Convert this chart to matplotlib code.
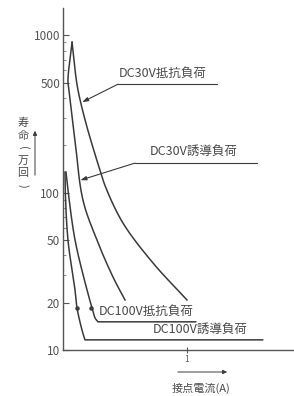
import matplotlib
matplotlib.use("Agg")
import numpy as np
import matplotlib.pyplot as plt
from matplotlib.patches import FancyArrowPatch
from matplotlib.ticker import FixedLocator, NullFormatter

plt.rcParams['font.family'] = ['Noto Sans CJK JP', 'DejaVu Sans']

# life (x10^4 operations) vs contact current (A)
dc30_res_x = [0.073, 0.097, 0.121, 0.185, 0.298, 0.347, 0.484, 0.726, 1.0]
dc30_res_y = [903, 600, 448, 276, 139, 106.8, 64, 35.7, 20.8]

dc30_ind_x = [0.073, 0.040, 0.048, 0.097, 0.161, 0.274, 0.403, 0.5]
dc30_ind_y = [903, 518, 448, 215, 89.6, 49.9, 29.1, 20.8]

dc100_res_x = [0.024, 0.040, 0.097, 0.194, 0.234, 0.258, 0.282, 1.07]
dc100_res_y = [135, 104, 50, 24, 18.5, 16.0, 15.1, 15.1]

dc100_ind_x = [0.016, 0.018, 0.040, 0.097, 0.113, 0.153, 0.177, 1.61]
dc100_ind_y = [135, 104, 50, 24, 18.5, 13.4, 11.6, 11.6]

ytick_vals = [10, 20, 50, 100, 500, 1000]
ytick_labels = ["10", "20", "50", "100", "500", "1000"]
yminor_vals = [30, 40, 60, 70, 80, 90, 200, 300, 400, 600, 700, 800, 900]

labels = ["DC30V抵抗負荷", "DC30V誘導負荷", "DC100V抵抗負荷", "DC100V誘導負荷"]
ylabel_chars = ["寿", "命", "(", "万", "回", ")"]
xlabel = "接点電流(A)"


def smooth_line(ax, xs, ys, n=24, alpha=0.5, straight_tail=False):
    """Centripetal Catmull-Rom through the read points, done in screen
    space so the curve looks smooth on the log axis."""
    P = ax.transData.transform(np.column_stack([xs, ys]))
    tail = None
    if straight_tail:
        tail = P[-1]
        P = P[:-1]
    P = np.vstack([2 * P[0] - P[1], P, 2 * P[-1] - P[-2]])
    out = [P[1]]
    for i in range(1, len(P) - 2):
        p0, p1, p2, p3 = P[i - 1], P[i], P[i + 1], P[i + 2]
        t0 = 0.0
        t1 = t0 + max(np.linalg.norm(p1 - p0), 1e-6) ** alpha
        t2 = t1 + max(np.linalg.norm(p2 - p1), 1e-6) ** alpha
        t3 = t2 + max(np.linalg.norm(p3 - p2), 1e-6) ** alpha
        for t in np.linspace(t1, t2, n)[1:]:
            a1 = (t1 - t) / (t1 - t0) * p0 + (t - t0) / (t1 - t0) * p1
            a2 = (t2 - t) / (t2 - t1) * p1 + (t - t1) / (t2 - t1) * p2
            a3 = (t3 - t) / (t3 - t2) * p2 + (t - t2) / (t3 - t2) * p3
            b1 = (t2 - t) / (t2 - t0) * a1 + (t - t0) / (t2 - t0) * a2
            b2 = (t3 - t) / (t3 - t1) * a2 + (t - t1) / (t3 - t1) * a3
            out.append((t2 - t) / (t2 - t1) * b1 + (t - t1) / (t2 - t1) * b2)
    if tail is not None:
        out.append(tail)
    d = ax.transData.inverted().transform(np.array(out))
    return d[:, 0], d[:, 1]


W, H = 294, 396
fig = plt.figure(figsize=(W / 100, H / 100), dpi=100)
ax = fig.add_axes([63 / W, (H - 350) / H, 230 / W, 342 / H])

lc = "#3a3a3a"
tc = "#4a4a4a"
ax.set_yscale("log")
ax.set_xlim(0, 1.855)
ax.set_ylim(10, 1490)

for xs, ys, flat in [(dc30_res_x, dc30_res_y, False),
                     (dc30_ind_x, dc30_ind_y, False),
                     (dc100_res_x, dc100_res_y, True),
                     (dc100_ind_x, dc100_ind_y, True)]:
    sx, sy = smooth_line(ax, xs, ys, straight_tail=flat)
    ax.plot(sx, sy, color=lc, lw=1.1, solid_joinstyle="round")

for s in ["top", "right"]:
    ax.spines[s].set_visible(False)
for s in ["left", "bottom"]:
    ax.spines[s].set_color("#555555")
    ax.spines[s].set_linewidth(1.0)

ax.yaxis.set_major_locator(FixedLocator(ytick_vals))
ax.set_yticklabels(ytick_labels)
ax.yaxis.set_minor_locator(FixedLocator(yminor_vals))
ax.yaxis.set_minor_formatter(NullFormatter())
ax.tick_params(axis="y", which="major", direction="in", length=4, width=0.8,
               colors="#555555", labelsize=8.5, pad=2)
ax.tick_params(axis="y", which="minor", direction="in", length=2, width=0.6,
               colors="#777777")
ax.set_xticks([1])
ax.set_xticklabels(["1"])
ax.tick_params(axis="x", direction="inout", length=5, width=0.8,
               colors="#555555", labelsize=6, pad=1)

arrow = dict(arrowstyle="-|>,head_length=0.35,head_width=0.12",
             color=lc, lw=0.8, shrinkA=0, shrinkB=0)

# label for DC30V resistive
ax.annotate("", xy=(0.155, 376), xytext=(0.444, 489), arrowprops=arrow)
ax.plot([0.444, 1.24], [489, 489], color=lc, lw=0.8)
ax.text(0.45, 520, labels[0], fontsize=9, color=tc, ha="left", va="bottom")

# label for DC30V inductive
ax.annotate("", xy=(0.14, 120), xytext=(0.58, 154), arrowprops=arrow)
ax.plot([0.58, 1.565], [154, 154], color=lc, lw=0.8)
ax.text(0.70, 165, labels[1], fontsize=9, color=tc, ha="left", va="bottom")

# labels for DC100V curves
ax.plot([0.113, 0.226], [18.5, 18.5], ls="none", marker="o", ms=2.2, color=lc)
ax.text(0.29, 16.0, labels[2], fontsize=9, color=tc, ha="left", va="bottom")
ax.text(0.72, 12.3, labels[3], fontsize=9, color=tc, ha="left", va="bottom")

# y axis title, stacked vertically, with arrow
for i, ch in enumerate(ylabel_chars):
    rot = -90 if ch in "()" else 0
    fig.text(23 / W, 1 - (123 + 12.5 * i) / H, ch, fontsize=8, color=tc,
             ha="center", va="center", rotation=rot)
fig.patches.append(FancyArrowPatch(
    (35 / W, 1 - 178 / H), (35 / W, 1 - 128 / H), transform=fig.transFigure,
    arrowstyle="-|>,head_length=2.5,head_width=1.2", color=lc, lw=0.7))

# x axis title with arrow
fig.patches.append(FancyArrowPatch(
    (175 / W, 1 - 372 / H), (230 / W, 1 - 372 / H), transform=fig.transFigure,
    arrowstyle="-|>,head_length=2.5,head_width=1.2", color=lc, lw=0.7))
fig.text(201 / W, 1 - 388 / H, xlabel, fontsize=8, color=tc,
         ha="center", va="center")

fig.savefig("out.png", dpi=100)
